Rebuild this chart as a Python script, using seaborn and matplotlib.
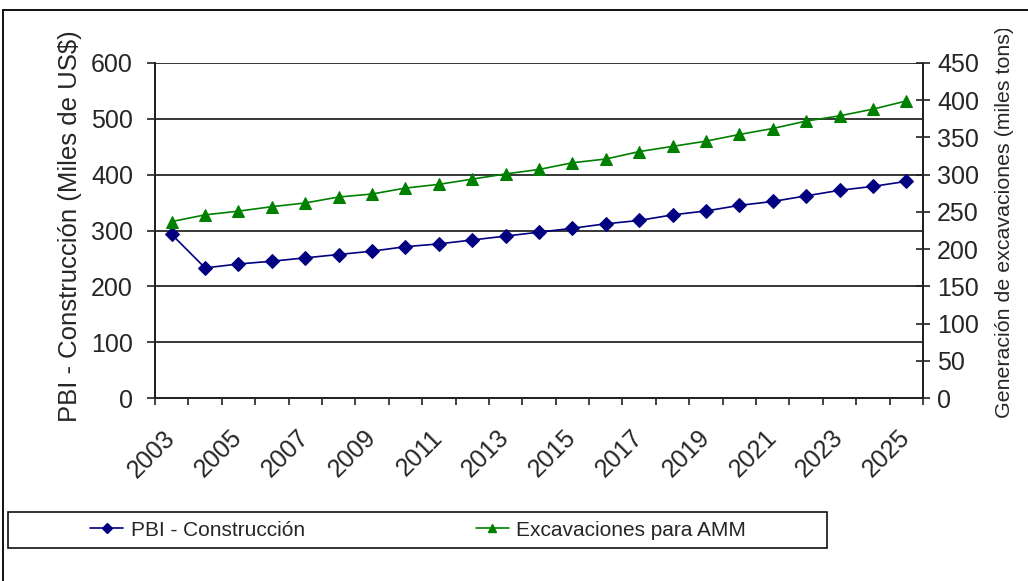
import matplotlib
matplotlib.use("Agg")
import matplotlib.pyplot as plt
from matplotlib.patches import Rectangle
from matplotlib.lines import Line2D
from matplotlib.transforms import Bbox, ScaledTranslation
import numpy as np
import pandas as pd
import seaborn as sns

years = list(range(2003, 2026))
pbi_construccion = [293, 233, 240, 245, 251, 257, 263, 271, 276, 283, 290, 297,
                    304, 312, 318, 328, 335, 345, 352, 362, 372, 379, 388]
excavaciones_amm = [237, 246, 251, 257, 262, 270, 274, 282, 287, 294, 301, 307,
                    316, 321, 331, 338, 345, 354, 362, 372, 379, 388, 399]
label_years = years[::2]

df = pd.DataFrame({"anio": years, "pbi": pbi_construccion, "exc": excavaciones_amm})

sns.set_theme(style="white")
plt.rcParams["font.family"] = ["Liberation Sans", "DejaVu Sans"]

BLUE = "#000080"
GREEN = "#008000"
W, H = 1028, 581

fig = plt.figure(figsize=(W / 100, H / 100), dpi=100)
ax = fig.add_axes([155 / W, 1 - 398 / H, 768 / W, 335 / H])
ax2 = ax.twinx()

sns.lineplot(data=df, x="anio", y="pbi", ax=ax, color=BLUE, marker="D",
             markersize=7, markeredgecolor=BLUE, linewidth=1.2, legend=False)
sns.lineplot(data=df, x="anio", y="exc", ax=ax2, color=GREEN, marker="^",
             markersize=9, markeredgecolor=GREEN, linewidth=1.2, legend=False)

ax.set_xlim(years[0] - 0.5, years[-1] + 0.5)
ax.set_ylim(0, 600)
ax2.set_ylim(0, 450)
ax.set_yticks(np.arange(0, 601, 100))
ax2.set_yticks(np.arange(0, 451, 50))

# category boundaries carry the tick marks, every other year carries a label
ax.set_xticks(np.arange(years[0] - 0.5, years[-1] + 1, 1.0))
ax.set_xticklabels([])
ax.set_xticks(label_years, minor=True)
ax.set_xticklabels([str(y) for y in label_years], minor=True, rotation=45,
                   ha="right", va="center", rotation_mode="anchor", fontsize=18)
shift = ScaledTranslation(-6 / 100, 0, fig.dpi_scale_trans)
for lbl in ax.get_xticklabels(minor=True):
    lbl.set_transform(lbl.get_transform() + shift)
ax.tick_params(axis="x", which="major", direction="out", length=5, width=1.2,
               color="#222222", bottom=True)
ax.tick_params(axis="x", which="minor", length=0, pad=26)

ax.tick_params(axis="y", direction="out", length=5.8, width=1.2, color="#222222",
               left=True, labelsize=18, pad=10)
ax2.tick_params(axis="y", direction="inout", length=10, width=1.2,
                color="#222222", right=True, labelsize=18, pad=5)

ax.grid(axis="y", color="black", linewidth=1.1)
ax.set_axisbelow(True)
for a in (ax, ax2):
    a.spines["top"].set_visible(False)
    for s in ("left", "right", "bottom"):
        a.spines[s].set_color("#222222")
        a.spines[s].set_linewidth(1.4)
ax.set_xlabel("")
ax.set_ylabel("PBI - Construcción (Miles de US$)", fontsize=18.5)
ax.yaxis.set_label_coords(-0.095, 0.513)
ax2.set_ylabel("Generación de excavaciones (miles tons)", fontsize=15.4)
ax2.yaxis.set_label_coords(1.0938, 0.525)
# the right-hand title runs past the top of the chart area and is cut there
ax2.yaxis.label.set_clip_box(Bbox.from_extents(0, 0, W, H - 29))
ax2.yaxis.label.set_clip_on(True)

# outer chart frame
fig.add_artist(Rectangle((3 / W, -0.2), 1.2, 1.2 - 10 / H,
                         transform=fig.transFigure, fill=False,
                         edgecolor="#111111", linewidth=1.4, clip_on=False))

# legend box along the bottom
box_x0, box_x1 = 8 / W, 827 / W
box_y0, box_y1 = 1 - 548 / H, 1 - 512 / H
fig.add_artist(Rectangle((box_x0, box_y0), box_x1 - box_x0, box_y1 - box_y0,
                         transform=fig.transFigure, fill=False,
                         edgecolor="#111111", linewidth=1.2))
handles = [
    Line2D([], [], color=BLUE, marker="D", markersize=5, linewidth=1.2),
    Line2D([], [], color=GREEN, marker="^", markersize=6, linewidth=1.2),
]
fig.legend(handles, ["PBI - Construcción", "Excavaciones para AMM"],
           loc="center", bbox_to_anchor=(418 / W, (box_y0 + box_y1) / 2),
           ncol=2, frameon=False, fontsize=15, handlelength=1.6,
           handletextpad=0.35, columnspacing=8.2, borderaxespad=0,
           borderpad=0)

fig.savefig("out.png", dpi=100)
